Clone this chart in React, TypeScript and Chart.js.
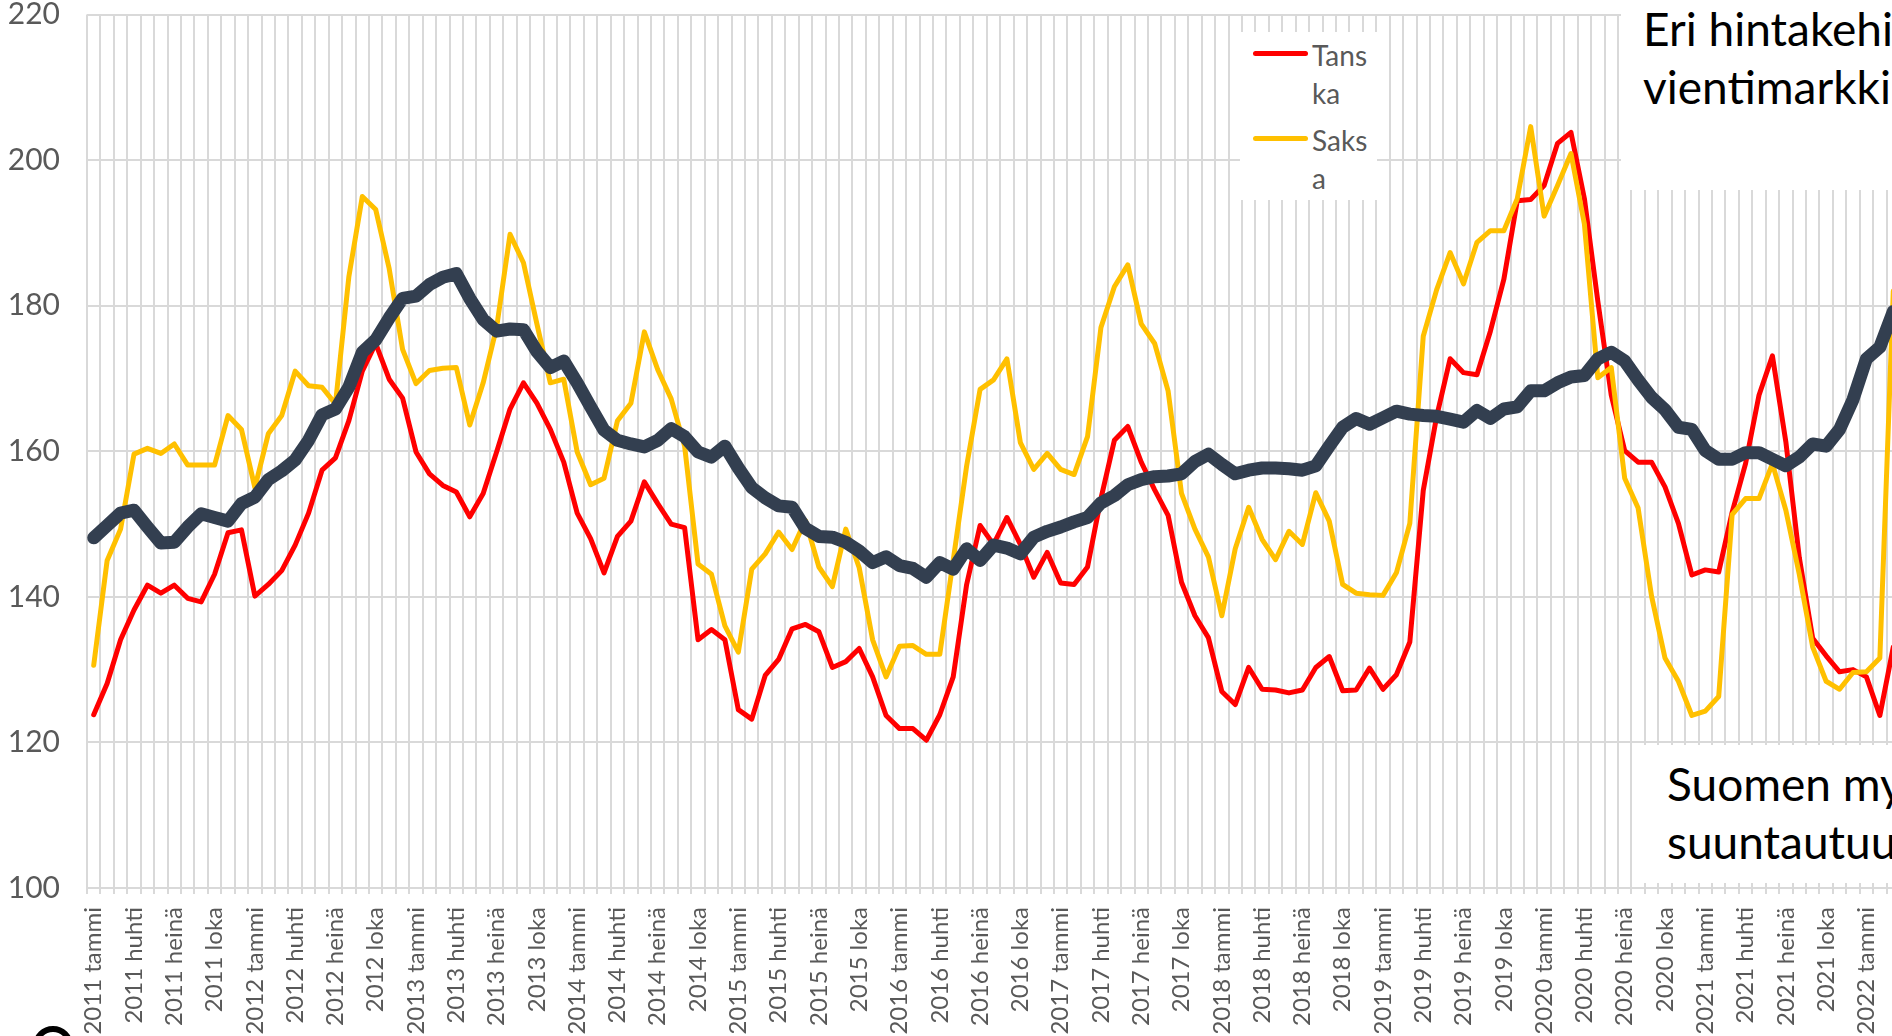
import React, { useEffect, useRef } from "react";
import { Chart, registerables } from "chart.js";

Chart.register(...registerables);

const months = ["tammi", "helmi", "maalis", "huhti", "touko", "kesä", "heinä", "elo", "syys", "loka", "marras", "joulu"];
const years = [2011, 2012, 2013, 2014, 2015, 2016, 2017, 2018, 2019, 2020, 2021, 2022];
const categories: string[] = [];
years.forEach((y) => months.forEach((m) => categories.push(`${y} ${m}`)));
const labels = categories.slice(0, 135);

const tanska = [
  123.8, 128.1, 134.1, 138.2, 141.6, 140.5, 141.6, 139.8, 139.3, 143.1, 148.8, 149.2,
  140.1, 141.7, 143.6, 147.1, 151.5, 157.4, 159.1, 164.2, 171.0, 174.8, 169.9, 167.3,
  159.9, 156.9, 155.3, 154.4, 151.0, 154.2, 159.9, 165.8, 169.4, 166.6, 163.0, 158.5,
  151.5, 148.0, 143.3, 148.3, 150.4, 155.8, 152.8, 150.0, 149.5, 134.1, 135.5, 134.1,
  124.5, 123.2, 129.2, 131.4, 135.6, 136.2, 135.2, 130.3, 131.1, 132.9, 129.0, 123.7,
  121.9, 121.9, 120.3, 123.8, 129.0, 141.7, 149.8, 147.2, 150.9, 147.2, 142.7, 146.1,
  141.9, 141.7, 144.1, 153.5, 161.5, 163.4, 158.5, 154.7, 151.2, 142.0, 137.4, 134.4,
  127.0, 125.2, 130.3, 127.3, 127.2, 126.8, 127.2, 130.3, 131.8, 127.1, 127.2, 130.2,
  127.3, 129.3, 133.8, 154.6, 164.8, 172.7, 170.8, 170.5, 176.5, 183.6, 194.4, 194.6,
  196.5, 202.3, 203.8, 194.7, 180.6, 167.7, 160.1, 158.5, 158.5, 155.1, 150.1, 143.0,
  143.7, 143.4, 151.6, 158.3, 167.7, 173.1, 161.3, 145.4, 134.3, 131.9, 129.7, 130.0,
  129.0, 123.7, 133.1,
];

const saksa = [
  130.6, 145.0, 149.3, 159.6, 160.4, 159.7, 161.0, 158.1, 158.1, 158.1, 164.9, 163.0,
  155.0, 162.4, 164.9, 171.0, 169.0, 168.8, 166.5, 184.0, 195.0, 193.2, 185.1, 174.0,
  169.3, 171.1, 171.4, 171.5, 163.6, 169.4, 177.0, 189.8, 185.9, 177.5, 169.4, 169.9,
  159.9, 155.4, 156.3, 164.2, 166.6, 176.4, 171.2, 167.2, 160.7, 144.5, 143.1, 136.0,
  132.4, 143.8, 145.9, 148.9, 146.5, 150.5, 144.1, 141.4, 149.3, 144.0, 134.1, 129.0,
  133.2, 133.3, 132.1, 132.1, 145.0, 158.0, 168.5, 169.8, 172.7, 161.2, 157.5, 159.7,
  157.5, 156.8, 162.0, 177.0, 182.6, 185.6, 177.5, 174.8, 168.3, 154.2, 149.3, 145.5,
  137.4, 146.6, 152.3, 147.9, 145.1, 149.0, 147.2, 154.3, 150.4, 141.7, 140.5, 140.3,
  140.2, 143.3, 150.1, 175.8, 182.2, 187.3, 183.0, 188.7, 190.3, 190.3, 194.7, 204.6,
  192.3, 196.5, 200.9, 191.2, 170.1, 171.5, 156.3, 152.2, 140.1, 131.6, 128.4, 123.7,
  124.3, 126.3, 151.3, 153.5, 153.5, 158.3, 151.9, 143.1, 133.1, 128.4, 127.3, 129.6,
  129.7, 131.6, 182.0,
];

const suomi = [
  148.1, 149.8, 151.5, 151.9, 149.6, 147.4, 147.5, 149.6, 151.4, 150.9, 150.4, 152.8,
  153.7, 156.1, 157.3, 158.8, 161.5, 165.0, 165.8, 168.8, 173.6, 175.3, 178.3, 181.0,
  181.3, 182.9, 183.9, 184.4, 181.0, 178.1, 176.5, 176.8, 176.7, 173.7, 171.5, 172.4,
  169.4, 166.1, 162.9, 161.5, 161.0, 160.6, 161.5, 163.1, 162.0, 159.9, 159.2, 160.7,
  157.7, 155.0, 153.6, 152.5, 152.3, 149.4, 148.3, 148.2, 147.5, 146.3, 144.7, 145.5,
  144.3, 143.9, 142.7, 144.7, 143.8, 146.6, 145.0, 147.1, 146.7, 145.9, 148.2, 149.0,
  149.6, 150.3, 150.9, 152.9, 153.9, 155.4, 156.1, 156.5, 156.6, 156.9, 158.6, 159.6,
  158.2, 156.9, 157.4, 157.7, 157.7, 157.6, 157.4, 158.0, 160.7, 163.3, 164.5, 163.7,
  164.6, 165.5, 165.1, 164.9, 164.8, 164.4, 164.0, 165.6, 164.5, 165.8, 166.1, 168.3,
  168.3, 169.4, 170.2, 170.4, 172.7, 173.6, 172.4, 169.8, 167.4, 165.7, 163.3, 163.0,
  160.1, 158.9, 158.9, 159.8, 159.8, 158.9, 158.0, 159.2, 161.0, 160.7, 163.0, 167.1,
  172.7, 174.3, 179.2,
];

const yTicks = [100, 120, 140, 160, 180, 200, 220];
const legendItems = [
  { lines: ["Tans", "ka"], color: "#FF0000" },
  { lines: ["Saks", "a"], color: "#FFC000" },
];
const titleLines = ["Eri hintakehi", "vientimarkki"];
const noteLines = ["Suomen my", "suuntautuu"];

const FONT = "Lato, 'Open Sans', sans-serif";

export default function App() {
  const ref = useRef<HTMLCanvasElement | null>(null);

  useEffect(() => {
    if (!ref.current) return;
    const chart = new Chart(ref.current, {
      type: "line",
      data: {
        labels,
        datasets: [
          {
            label: "Suomi",
            data: suomi,
            borderColor: "#333F50",
            backgroundColor: "#333F50",
            borderWidth: 13,
            pointRadius: 0,
            borderJoinStyle: "round",
            borderCapStyle: "round",
            order: 0,
          },
          {
            label: "Saksa",
            data: saksa,
            borderColor: "#FFC000",
            backgroundColor: "#FFC000",
            borderWidth: 5,
            pointRadius: 0,
            borderJoinStyle: "round",
            borderCapStyle: "round",
            order: 1,
          },
          {
            label: "Tanska",
            data: tanska,
            borderColor: "#FF0000",
            backgroundColor: "#FF0000",
            borderWidth: 5,
            pointRadius: 0,
            borderJoinStyle: "round",
            borderCapStyle: "round",
            order: 2,
          },
        ],
      },
      options: {
        responsive: false,
        animation: false,
        devicePixelRatio: 1,
        layout: { padding: { top: 0, right: 20, left: 0, bottom: 0 } },
        plugins: {
          legend: { display: false },
          tooltip: { enabled: false },
          title: { display: false },
        },
        scales: {
          x: {
            type: "category",
            offset: true,
            grid: {
              offset: true,
              color: "#D9D9D9",
              lineWidth: 2,
              drawTicks: true,
              tickLength: 6,
            },
            border: { display: true, color: "#D9D9D9", width: 2 },
            ticks: {
              autoSkip: false,
              maxRotation: 90,
              minRotation: 90,
              padding: 13,
              color: "#595959",
              font: { family: FONT, size: 24 },
              callback: (_v: any, i: number) => (i % 3 === 0 ? labels[i] : ""),
            },
            afterFit: (s: any) => {
              s.height = 148;
              s.paddingLeft = 0;
              s.paddingRight = 0;
            },
          },
          y: {
            min: 100,
            max: 220,
            afterBuildTicks: (s: any) => {
              s.ticks = yTicks.map((v) => ({ value: v }));
            },
            ticks: {
              padding: 27,
              color: "#595959",
              font: { family: FONT, size: 30 },
            },
            grid: { color: "#D9D9D9", lineWidth: 2, drawTicks: false },
            border: { display: false },
            afterFit: (s: any) => {
              s.width = 87;
              s.paddingTop = 14.5;
              s.paddingBottom = 0;
            },
          },
        },
      },
    });
    return () => chart.destroy();
  }, []);

  return (
    <div
      style={{
        position: "fixed",
        left: 0,
        top: 0,
        width: 1892,
        height: 1036,
        overflow: "hidden",
        background: "#ffffff",
      }}
    >
      <canvas ref={ref} width={1920} height={1036} style={{ display: "block", width: 1920, height: 1036 }} />

      {/* legend */}
      <div
        style={{
          position: "absolute",
          left: 1240,
          top: 32,
          width: 137,
          height: 168,
          background: "#ffffff",
        }}
      >
        {legendItems.map((it, k) => (
          <div key={k} style={{ position: "absolute", left: 0, top: 4 + k * 85, width: 137 }}>
            <div
              style={{
                position: "absolute",
                left: 13,
                top: 15,
                width: 55,
                height: 5,
                borderRadius: 3,
                background: it.color,
              }}
            />
            <div
              style={{
                position: "absolute",
                left: 72,
                top: 0,
                fontFamily: FONT,
                fontSize: 28,
                lineHeight: "38px",
                color: "#595959",
                whiteSpace: "pre",
              }}
            >
              {it.lines.join("\n")}
            </div>
          </div>
        ))}
      </div>

      {/* top-right text box */}
      <div
        style={{
          position: "absolute",
          left: 1621,
          top: 0,
          width: 300,
          height: 190,
          background: "#ffffff",
        }}
      >
        <div
          style={{
            position: "absolute",
            left: 22,
            top: 0,
            fontFamily: FONT,
            fontSize: 46,
            lineHeight: "58px",
            color: "#000000",
            whiteSpace: "pre",
          }}
        >
          {titleLines.join("\n")}
        </div>
      </div>

      {/* bottom-right text box */}
      <div
        style={{
          position: "absolute",
          left: 1643,
          top: 745,
          width: 300,
          height: 138,
          background: "#ffffff",
        }}
      >
        <div
          style={{
            position: "absolute",
            left: 24,
            top: 10,
            fontFamily: FONT,
            fontSize: 46,
            lineHeight: "58px",
            color: "#000000",
            whiteSpace: "pre",
          }}
        >
          {noteLines.join("\n")}
        </div>
      </div>

      {/* logo fragment */}
      <div
        style={{
          position: "absolute",
          left: 33,
          top: 1026,
          width: 40,
          height: 40,
          borderRadius: "50%",
          border: "6px solid #000000",
          boxSizing: "border-box",
          background: "#ffffff",
        }}
      />
    </div>
  );
}
